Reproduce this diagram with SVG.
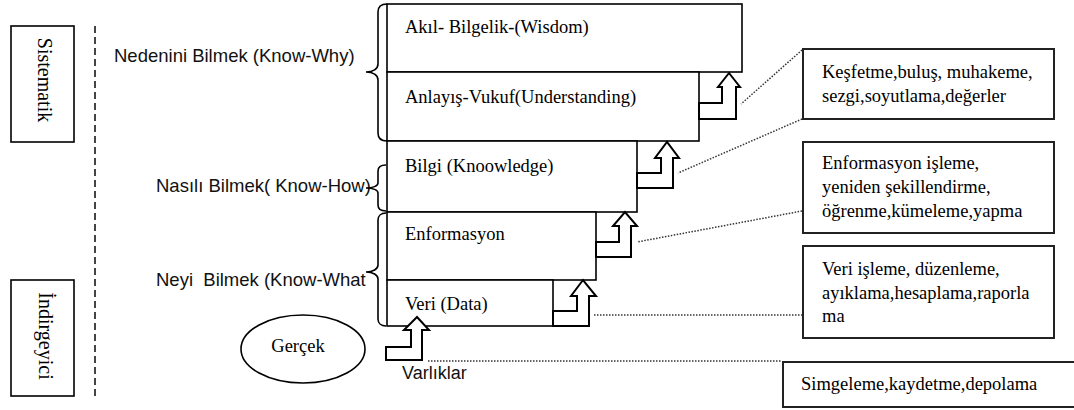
<svg xmlns="http://www.w3.org/2000/svg" width="1074" height="410" viewBox="0 0 1074 410">
<style>
.bx{fill:#fff;stroke:#000;stroke-width:1.6}
.rb{fill:#fff;stroke:#222;stroke-width:2}
.ar{fill:#fff;stroke:#000;stroke-width:2;stroke-linejoin:miter}
.br{fill:none;stroke:#000;stroke-width:1.6}
.dot{fill:none;stroke:#333;stroke-width:1.5;stroke-dasharray:1.5 1.5}
.dash{fill:none;stroke:#444;stroke-width:2;stroke-dasharray:7 4}
.se{font-family:"Liberation Serif","Times New Roman",serif;font-size:18.5px;fill:#000}
.sv{font-family:"Liberation Serif","Times New Roman",serif;font-size:20px;fill:#000}
.sa{font-family:"Liberation Sans",Arial,sans-serif;font-size:18.5px;fill:#111;white-space:pre}
</style>
<rect width="1074" height="410" fill="#fff"/>
<g id="side-labels">
<g id="sistematik"><rect class="bx" x="11" y="26" width="63" height="116"/><text class="sv" text-anchor="middle" transform="translate(38,80) rotate(90)">Sistematik</text></g>
<g id="indirgeyici"><rect class="bx" x="11" y="280" width="63" height="116"/><text class="sv" text-anchor="middle" transform="translate(39,336) rotate(90)">İndirgeyici</text></g>
<line class="dash" x1="95" y1="26" x2="95" y2="397"/>
</g>
<g id="levels">
<g id="know-why"><text class="sa" x="114" y="62">Nedenini Bilmek (Know-Why)</text><path class="br" d="M387,4 C381,4 378,7 378,12 L378,64 C378,69 373,72 366,72 C373,72 378,75 378,80 L378,133 C378,138 381,141 387,141"/></g>
<g id="know-how"><text class="sa" x="156" y="192">Nasılı Bilmek( Know-How)</text><path class="br" d="M386,165 C381,165 378,167 378,171 L378,183 C378,186 373,188 366,188 C373,188 378,190 378,193 L378,205 C378,209 381,211 386,211"/></g>
<g id="know-what"><text class="sa" x="156" y="286">Neyi  Bilmek (Know-What</text><path class="br" d="M386,213 C381,213 378,216 378,220 L378,265 C378,269 373,272 366,272 C373,272 378,275 378,279 L378,319 C378,323 381,326 386,326"/></g>
</g>
<g id="wisdom"><rect class="bx" x="387" y="4" width="355" height="68"/><text class="se" x="405" y="33">Akıl- Bilgelik-(Wisdom)</text></g>
<g id="understanding"><rect class="bx" x="387" y="72" width="312" height="69"/><text class="se" x="405" y="103">Anlayış-Vukuf(Understanding)</text></g>
<g id="knowledge"><rect class="bx" x="387" y="141" width="250" height="71"/><text class="se" x="405" y="172">Bilgi (Knoowledge)</text></g>
<g id="information"><rect class="bx" x="387" y="212" width="209" height="68"/><text class="se" x="405" y="240">Enformasyon</text></g>
<g id="data"><rect class="bx" x="387" y="280" width="166" height="46"/><text class="se" x="405" y="310">Veri (Data)</text></g>
<g id="gercek"><ellipse class="bx" cx="303" cy="349" rx="62" ry="34"/><text class="se" x="298" y="352" text-anchor="middle">Gerçek</text></g>
<g id="varliklar"><text class="sa" x="402" y="379" style="font-size:18px">Varlıklar</text></g>
<g id="box-wisdom-proc"><rect class="rb" x="803" y="49" width="251" height="70"/><text class="se" x="822" y="78">Keşfetme,buluş, muhakeme,</text><text class="se" x="822" y="102">sezgi,soyutlama,değerler</text></g>
<g id="box-info-proc"><rect class="rb" x="803" y="142" width="251" height="91"/><text class="se" x="822" y="169">Enformasyon işleme,</text><text class="se" x="822" y="193">yeniden şekillendirme,</text><text class="se" x="822" y="217">öğrenme,kümeleme,yapma</text></g>
<g id="box-data-proc"><rect class="rb" x="803" y="246" width="251" height="92"/><text class="se" x="822" y="275">Veri işleme, düzenleme,</text><text class="se" x="822" y="299">ayıklama,hesaplama,raporla</text><text class="se" x="822" y="322">ma</text></g>
<g id="box-symbol"><rect class="rb" x="783" y="362" width="292" height="45"/><text class="se" x="801" y="390">Simgeleme,kaydetme,depolama</text></g>
<g id="connectors">
<line class="bx" x1="553" y1="326" x2="589" y2="326"/>
<polygon class="ar" points="699,103 722,103 722,87 718,87 729,73 740,87 736,87 736,119 699,119"/>
<polygon class="ar" points="637,173 661,173 661,158 655,158 667,142 679,158 673,158 673,188 637,188"/>
<polygon class="ar" points="596,242 619,242 619,226 613,226 625,212 637,226 631,226 631,257 596,257"/>
<polygon class="ar" points="553,311 577,311 577,296 571,296 583,280 596,296 589,296 589,326 553,326"/>
<polygon class="ar" points="386,347 411,347 411,330 404,330 417,317 429,330 422,330 422,360 386,360"/>
<line class="dot" x1="802" y1="50" x2="741" y2="104"/>
<line class="dot" x1="802" y1="119" x2="678" y2="173"/>
<line class="dot" x1="802" y1="211" x2="637" y2="242"/>
<line class="dot" x1="594" y1="315" x2="802" y2="315"/>
<line class="dot" x1="428" y1="361" x2="782" y2="361"/>
</g>
</svg>
